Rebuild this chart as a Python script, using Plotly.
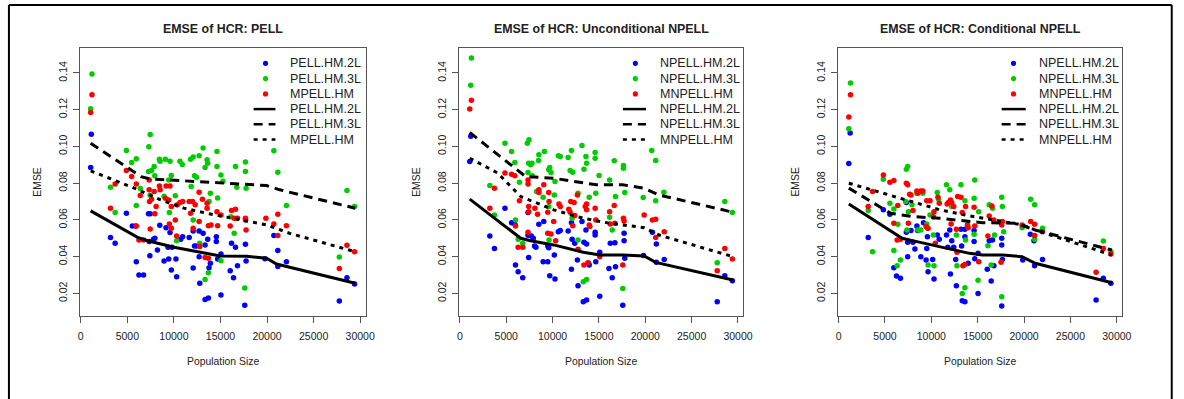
import plotly.graph_objects as go

# ---------------- data ----------------
panel_titles = ["EMSE of HCR: PELL", "EMSE of HCR: Unconditional NPELL", "EMSE of HCR: Conditional NPELL"]
legend_labels = [
    ["PELL.HM.2L", "PELL.HM.3L", "MPELL.HM"],
    ["NPELL.HM.2L", "NPELL.HM.3L", "MNPELL.HM"],
    ["NPELL.HM.2L", "NPELL.HM.3L", "MNPELL.HM"],
]
x_ticks = [0, 5000, 10000, 15000, 20000, 25000, 30000]
y_ticks = [0.02, 0.04, 0.06, 0.08, 0.10, 0.12, 0.14]

# Panel 1 : PELL  (population size, EMSE)
pell_2l_pts = [(1136,.1067),(1065,.0885),(3195,.0505),(3692,.0473),(4899,.0636),(5538,.0567),(5893,.0567),(5964,.0373),(6248,.0300),(6745,.0300),
    (7277,.0633),(7455,.0633),(7419,.0405),(7348,.0482),(7810,.0495),(7952,.0500),(8236,.0436),(8484,.0571),(9159,.0558),(8946,.0376),
    (9372,.0451),(9585,.0531),(9443,.0387),(9727,.0327),(9798,.0451),(10224,.0387),(10295,.0291),(10721,.0495),(10934,.0509),(11644,.0505),
    (12070,.0540),(12070,.0338),(12212,.0458),(12425,.0458),(12709,.0540),(12709,.0400),(12780,.0255),(13135,.0527),(13348,.0464),(13348,.0167),
    (13632,.0495),(13703,.0175),(13774,.0340),(13916,.0364),(14555,.0509),(14555,.0482),(14697,.0387),(15052,.0415),(15052,.0191),(16046,.0324),
    (16188,.0473),(16401,.0285),(16614,.0451),(16827,.0351),(17679,.0467),(17750,.0376),(17608,.0136),(19774,.0389),(20732,.0515),(21158,.0433),
    (21158,.0347),(22081,.0373),(27761,.0158),(28578,.0285),(29394,.0251)]
pell_3l_pts = [(1207,.1395),(1065,.1205),(3195,.0778),(3692,.0640),(4899,.0978),(5467,.0913),(5964,.0933),(5964,.0678),(6390,.0771),(7313,.0998),
    (7455,.1065),(7277,.0864),(7597,.0869),(7881,.0891),(7952,.0840),(7455,.0735),(8449,.0931),(8520,.0920),(9088,.0931),(9585,.0920),
    (9443,.0818),(9727,.0842),(8946,.0729),(9514,.0640),(10153,.0731),(10295,.0487),(10650,.0920),(10898,.0902),(11786,.0931),(12070,.0942),
    (11857,.0782),(12212,.0840),(12425,.0833),(12070,.0600),(12709,.0949),(13135,.0991),(13348,.0885),(13561,.0927),(13632,.0909),(13916,.0745),
    (13774,.0700),(12780,.0473),(13348,.0276),(13703,.0313),(14626,.0973),(14626,.0891),(14697,.0720),(15052,.0845),(15052,.0378),(15265,.0811),
    (16117,.0618),(16614,.0891),(16756,.0778),(16472,.0527),(17679,.0916),(17679,.0864),(17750,.0773),(17608,.0229),(20732,.0976),(21158,.0860),
    (22081,.0678),(28578,.0760),(29394,.0673),(27761,.0398)]
mpell_pts = [(1207,.1282),(1065,.1185),(3195,.0664),(3692,.0796),(4899,.0869),(5467,.0836),(5964,.0795),(5964,.0567),(6248,.0491),(6390,.0733),
    (6745,.0491),(7348,.0818),(7348,.0764),(7384,.0700),(7455,.0551),(7597,.0713),(7881,.0755),(7952,.0633),(8094,.0673),(8449,.0785),
    (8520,.0764),(9159,.0785),(9585,.0785),(9088,.0718),(9443,.0709),(9514,.0578),(9727,.0673),(9727,.0555),(10153,.0600),(10295,.0513),
    (10366,.0682),(10650,.0695),(10934,.0700),(11644,.0700),(11786,.0636),(11999,.0700),(12070,.0555),(12283,.0682),(12709,.0751),(12709,.0591),
    (12780,.0455),(13064,.0713),(13348,.0395),(13561,.0691),(13561,.0664),(13703,.0391),(13703,.0569),(13987,.0573),(14626,.0645),(14697,.0569),
    (15052,.0627),(16046,.0567),(16188,.0651),(16472,.0609),(16614,.0658),(16827,.0609),(17679,.0609),(17750,.0545),(17679,.0600),(19880,.0609),
    (20732,.0578),(21158,.0631),(21158,.0515),(22081,.0569),(27761,.0336),(28578,.0462),(29394,.0427)]
pell_2l_fit = [(1065,.0649),(6106,.0505),(7171,.0487),(10011,.0451),(12851,.0424),(14981,.0404),(17821,.0402),(19951,.0391),(21016,.0360),(29465,.0255)]
pell_3l_fit = [(1065,.1018),(6461,.0836),(7348,.0824),(12851,.0809),(16401,.0800),(19951,.0787),(21371,.0764),(29465,.0664)]
mpell_fit = [(1065,.0867),(5751,.0773),(8591,.0709),(11076,.0664),(13561,.0636),(16401,.0609),(19951,.0573),(22436,.0527),(29465,.0427)]

# Panel 2 : Unconditional NPELL
unc_2l_pts = [(1172,.1055),(1065,.0918),(3231,.0513),(3728,.0445),(4864,.0664),(5574,.0585),(5929,.0578),(6000,.0355),(6284,.0318),(6781,.0285),
    (7349,.0640),(7349,.0516),(7420,.0396),(7704,.0513),(7917,.0500),(8059,.0458),(8201,.0451),(8520,.0576),(9053,.0591),(8982,.0373),
    (9479,.0373),(9479,.0458),(9585,.0449),(9692,.0296),(10260,.0278),(10189,.0409),(10615,.0536),(10828,.0542),(11680,.0540),(12035,.0585),
    (12035,.0331),(12106,.0495),(12390,.0473),(12674,.0382),(12745,.0242),(13171,.0591),(13313,.0155),(13668,.0164),(13384,.0478),(13597,.0545),
    (13668,.0469),(13881,.0364),(13952,.0355),(14591,.0518),(14591,.0533),(14662,.0373),(15088,.0424),(15088,.0184),(16082,.0336),(16224,.0473),
    (16437,.0285),(16721,.0476),(16792,.0345),(17715,.0527),(17715,.0487),(17786,.0391),(17573,.0136),(19809,.0407),(20768,.0533),(21194,.0469),
    (21194,.0369),(22046,.0385),(27761,.0155),(28578,.0296),(29394,.0269)]
unc_3l_pts = [(1243,.1482),(1172,.1333),(3231,.0787),(3728,.0627),(4864,.1018),(5574,.0973),(5929,.0913),(6000,.0600),(6426,.0805),(6781,.0473),
    (6284,.0495),(7278,.1018),(7455,.1036),(7420,.0909),(7633,.0900),(7775,.0909),(7349,.0858),(7810,.0840),(8272,.0755),(8485,.0924),
    (8520,.0955),(8982,.0724),(9124,.0973),(9585,.0873),(9692,.0885),(9834,.0858),(9585,.0673),(9621,.0491),(10260,.0809),(10189,.0736),
    (10615,.0949),(10828,.0945),(11680,.0940),(11893,.0869),(12177,.0860),(12035,.0978),(12106,.0609),(12745,.0491),(12745,.0745),(13171,.1005),
    (13384,.0876),(13597,.0945),(13668,.0909),(13313,.0264),(13668,.0276),(13952,.0724),(14591,.0967),(14591,.0936),(14662,.0745),(15017,.0842),
    (16153,.0818),(16153,.0615),(16437,.0545),(16650,.0922),(16792,.0727),(17644,.0896),(17644,.0882),(17786,.0749),(17573,.0227),(19774,.0722),
    (20697,.0978),(21123,.0924),(21123,.0704),(22010,.0751),(28578,.0700),(29394,.0640),(27761,.0367)]
munc_pts = [(1243,.1251),(1065,.1204),(3231,.0664),(3728,.0773),(4864,.0855),(5574,.0849),(5929,.0840),(6000,.0567),(6284,.0451),(6781,.0451),
    (6426,.0704),(7349,.0818),(7349,.0795),(7420,.0673),(7420,.0645),(7349,.0533),(8094,.0664),(8378,.0631),(8520,.0764),(8520,.0749),
    (9053,.0791),(9585,.0749),(9479,.0642),(9621,.0700),(9479,.0527),(9834,.0524),(10118,.0591),(10331,.0487),(10686,.0687),(10828,.0673),
    (11751,.0658),(11893,.0642),(11964,.0700),(12319,.0695),(12177,.0569),(12390,.0624),(12674,.0736),(12745,.0440),(13384,.0355),(13526,.0673),
    (13668,.0687),(13668,.0655),(13810,.0367),(13952,.0573),(14023,.0564),(14591,.0664),(14662,.0600),(15088,.0400),(16153,.0645),(16224,.0578),
    (16650,.0678),(16721,.0582),(17644,.0609),(17715,.0594),(17573,.0355),(19880,.0627),(20768,.0600),(21123,.0604),(21123,.0505),(22046,.0536),
    (27761,.0324),(28578,.0445),(29394,.0387)]
unc_2l_fit = [(1065,.0713),(6568,.0500),(7633,.0487),(10118,.0464),(13313,.0424),(15088,.0409),(17573,.0409),(19880,.0404),(21122,.0369),(29465,.0273)]
unc_3l_fit = [(1065,.1076),(6213,.0873),(7100,.0836),(10118,.0827),(14733,.0791),(17573,.0791),(19880,.0773),(21478,.0736),(29465,.0642)]
munc_fit = [(1065,.0936),(4083,.0855),(6568,.0727),(10118,.0655),(13313,.0609),(16153,.0582),(19880,.0558),(21478,.0518),(29465,.0400)]

# Panel 3 : Conditional NPELL
cond_2l_pts = [(1241,.1073),(1099,.0907),(3191,.0505),(4823,.0655),(5532,.0631),(5957,.0340),(6241,.0295),(6666,.0282),(7305,.0695),(7305,.0533),
    (7447,.0400),(7447,.0478),(7802,.0542),(8014,.0478),(8227,.0442),(8440,.0567),(8511,.0542),(8866,.0400),(9156,.0585),(9503,.0445),
    (9574,.0509),(9645,.0318),(9432,.0382),(10142,.0385),(10284,.0278),(10638,.0518),(10851,.0495),(11631,.0518),(11773,.0451),(11986,.0545),
    (12056,.0305),(12198,.0487),(12411,.0451),(12624,.0385),(12695,.0242),(13262,.0458),(13191,.0549),(13333,.0160),(13617,.0549),(13617,.0155),
    (13617,.0509),(13971,.0364),(14609,.0542),(14609,.0482),(14680,.0389),(15035,.0200),(15035,.0418),(16028,.0331),(16241,.0487),(16454,.0267),
    (16596,.0491),(16738,.0351),(17588,.0500),(17588,.0464),(17659,.0385),(17588,.0131),(19858,.0382),(20673,.0522),(21064,.0487),(21135,.0351),
    (21985,.0385),(27765,.0164),(28545,.0282),(29361,.0255)]
cond_3l_pts = [(1277,.1345),(1099,.1096),(3191,.0651),(3652,.0427),(4823,.0822),(5532,.0691),(5957,.0660),(5957,.0433),(6312,.0351),(6383,.0576),
    (6666,.0382),(7305,.0876),(7447,.0891),(7234,.0700),(7518,.0645),(7376,.0545),(7908,.0682),(8440,.0745),(8546,.0545),(8866,.0545),
    (9078,.0745),(9503,.0578),(9574,.0555),(9645,.0355),(9858,.0627),(10284,.0351),(10213,.0518),(10638,.0749),(10780,.0713),(11631,.0791),
    (11986,.0764),(12198,.0673),(12695,.0518),(12766,.0351),(13191,.0791),(13333,.0200),(13617,.0704),(13688,.0491),(13617,.0231),(13901,.0573),
    (14609,.0718),(14680,.0818),(14609,.0522),(15106,.0645),(15035,.0271),(16099,.0460),(16241,.0682),(16596,.0664),(16809,.0518),(16454,.0355),
    (17588,.0724),(17659,.0673),(17801,.0536),(17588,.0182),(19787,.0558),(20709,.0713),(21135,.0682),(21135,.0495),(21985,.0555),(28545,.0485),
    (29361,.0427)]
mcond_pts = [(1277,.1282),(1099,.1160),(3191,.0673),(3652,.0755),(4823,.0845),(5532,.0805),(5957,.0815),(5957,.0582),(6312,.0491),(6383,.0678),
    (6666,.0495),(7305,.0800),(7447,.0791),(7518,.0582),(7660,.0740),(7802,.0736),(8014,.0651),(8440,.0758),(8546,.0745),(8866,.0758),
    (9078,.0758),(9432,.0564),(9503,.0705),(9645,.0555),(9858,.0705),(10213,.0618),(10284,.0645),(10426,.0473),(10709,.0724),(10851,.0691),
    (11702,.0687),(11844,.0695),(12056,.0709),(12198,.0695),(12411,.0673),(12127,.0578),(12695,.0549),(12766,.0424),(12837,.0727),(13191,.0724),
    (13333,.0640),(13404,.0351),(13688,.0673),(13901,.0573),(13617,.0358),(13971,.0558),(14609,.0669),(14680,.0567),(15106,.0373),(16099,.0513),
    (16241,.0622),(16525,.0676),(16738,.0600),(17588,.0573),(17659,.0591),(17517,.0369),(19787,.0573),(20709,.0591),(21135,.0576),(21135,.0515),
    (21985,.0536),(27765,.0315),(28545,.0445),(29361,.0415)]
cond_2l_fit = [(1099,.0687),(6844,.0500),(8440,.0482),(10922,.0455),(14113,.0418),(15532,.0409),(17659,.0409),(19787,.0400),(21205,.0364),(29467,.0258)]
cond_3l_fit = [(1099,.0773),(5603,.0636),(8085,.0618),(10922,.0609),(15532,.0585),(19078,.0582),(21205,.0545),(29467,.0436)]
mcond_fit = [(1099,.0800),(4894,.0745),(8085,.0700),(10922,.0655),(14113,.0622),(17659,.0591),(19787,.0573),(21205,.0545),(29467,.0409)]

panels = [
    ([pell_2l_pts, pell_3l_pts, mpell_pts], [pell_2l_fit, pell_3l_fit, mpell_fit]),
    ([unc_2l_pts, unc_3l_pts, munc_pts], [unc_2l_fit, unc_3l_fit, munc_fit]),
    ([cond_2l_pts, cond_3l_pts, mcond_pts], [cond_2l_fit, cond_3l_fit, mcond_fit]),
]

# ---------------- styling ----------------
W, H = 1184, 399
FONT = "Liberation Sans, Arial, Helvetica, sans-serif"
point_colors = ["#0000FF", "#00CD00", "#FF0000"]
line_dashes = ["solid", "9px,6px", "4px,5px"]
TXT = "#222222"
BOX = "#555555"

# plot-area boxes in pixels (left, right); top/bottom shared
boxes = [(79, 367), (461.7, 748.3), (844, 1130.7)]
top_px, bot_px = 48, 316
x_range = [-50, 30580]
y_range = [0.0077, 0.1536]

# legend geometry (pixels) per panel: dot x, text x, line x0, line x1
leg_geom = [(266, 289, 254, 276), (639.3, 662.3, 626.7, 650), (1021, 1044.3, 1009, 1033.3)]
leg_rows = [63.3, 78.6, 93.9, 109.1, 124.3, 139.5]

fig = go.Figure()


def px_x(p):
    return p / W


def px_y(p):
    return 1 - p / H


annotations = []
shapes = []

for i, (pts_sets, fits) in enumerate(panels):
    ax = "" if i == 0 else str(i + 1)
    xref, yref = "x" + ax, "y" + ax
    for pts, col in zip(pts_sets, point_colors):
        fig.add_trace(go.Scatter(
            x=[p[0] for p in pts], y=[p[1] for p in pts], mode="markers",
            marker=dict(color=col, size=5.5, line=dict(width=0)),
            xaxis=xref, yaxis=yref, showlegend=False, hoverinfo="skip"))
    for fit, dash in zip(fits, line_dashes):
        fig.add_trace(go.Scatter(
            x=[p[0] for p in fit], y=[p[1] for p in fit], mode="lines",
            line=dict(color="black", width=3, dash=dash),
            xaxis=xref, yaxis=yref, showlegend=False, hoverinfo="skip"))

    l, r = boxes[i]
    axis_common = dict(showline=True, mirror=True, linecolor=BOX, linewidth=1,
                       ticks="outside", ticklen=6, tickcolor=BOX, tickwidth=1,
                       showgrid=False, zeroline=False,
                       tickfont=dict(family=FONT, size=10.5, color=TXT))
    fig.update_layout(**{
        "xaxis" + ax: dict(domain=[px_x(l), px_x(r)], range=x_range, tickvals=x_ticks,
                           ticktext=[str(v) for v in x_ticks], anchor=yref,
                           ticklabelstandoff=4, **axis_common),
        "yaxis" + ax: dict(domain=[px_y(bot_px), px_y(top_px)], range=y_range, tickvals=y_ticks,
                           tickformat=".2f", tickangle=-90, anchor=xref,
                           ticklabelstandoff=2, **axis_common),
    })

    cx = (l + r) / 2
    annotations.append(dict(text="<b>" + panel_titles[i] + "</b>", x=px_x(cx), y=px_y(29),
                            xref="paper", yref="paper", showarrow=False, xanchor="center", yanchor="middle",
                            font=dict(family=FONT, size=12.4, color=TXT)))
    annotations.append(dict(text="Population Size", x=px_x(cx), y=px_y(361),
                            xref="paper", yref="paper", showarrow=False, xanchor="center", yanchor="middle",
                            font=dict(family=FONT, size=10.4, color=TXT)))
    annotations.append(dict(text="EMSE", x=px_x(l - 44), y=px_y((top_px + bot_px) / 2),
                            xref="paper", yref="paper", showarrow=False, textangle=-90,
                            xanchor="center", yanchor="middle",
                            font=dict(family=FONT, size=10.4, color=TXT)))

    # legend
    dx, tx, lx0, lx1 = leg_geom[i]
    labels = legend_labels[i] + legend_labels[i]
    for k, row in enumerate(leg_rows):
        annotations.append(dict(text=labels[k], x=px_x(tx), y=px_y(row), xref="paper", yref="paper",
                                showarrow=False, xanchor="left", yanchor="middle",
                                font=dict(family=FONT, size=12.5, color=TXT)))
        if k < 3:
            rad = 2.6
            shapes.append(dict(type="circle", xref="paper", yref="paper",
                               x0=px_x(dx - rad), x1=px_x(dx + rad), y0=px_y(row + rad), y1=px_y(row - rad),
                               fillcolor=point_colors[k], line=dict(width=0)))
        else:
            shapes.append(dict(type="line", xref="paper", yref="paper",
                               x0=px_x(lx0), x1=px_x(lx1), y0=px_y(row), y1=px_y(row),
                               line=dict(color="black", width=2.5, dash=line_dashes[k - 3])))

# outer frame (top, left, right)
for (x0, y0, x1, y1) in [(7, 5, 1180.7, 5), (7, 5, 7, 399), (1180.7, 5, 1180.7, 399)]:
    shapes.append(dict(type="line", xref="paper", yref="paper",
                       x0=px_x(x0), y0=px_y(y0), x1=px_x(x1), y1=px_y(y1),
                       line=dict(color="black", width=2)))

fig.update_layout(width=W, height=H, margin=dict(l=0, r=0, t=0, b=0),
                  paper_bgcolor="white", plot_bgcolor="white",
                  annotations=annotations, shapes=shapes, showlegend=False)

fig.write_html("out.html")
